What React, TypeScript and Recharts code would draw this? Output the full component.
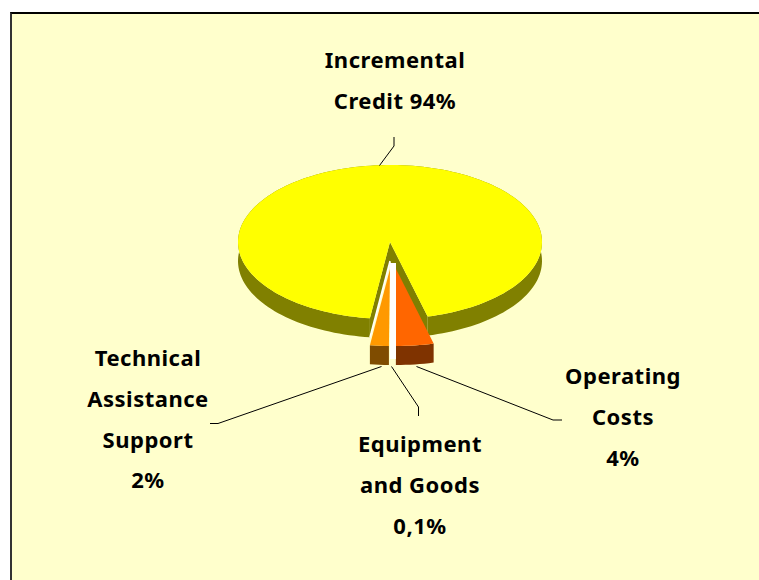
import { PieChart, Pie } from "recharts";

// clockwise from the lower left edge of the big slice
const sliceNames = ["Incremental Credit", "Operating Costs", "Equipment and Goods", "Technical Assistance Support"];
const sliceValues = [94, 4, 0.1, 2];
const labelLines = [
	["Incremental", "Credit 94%"],
	["Operating", "Costs", "4%"],
	["Equipment", "and Goods", "0,1%"],
	["Technical", "Assistance", "Support", "2%"],
];

const chartData = sliceNames.map((name, i) => ({ name, value: sliceValues[i] }));

const TOP_COLORS = ["#FFFF00", "#FF6600", "#FFFFFF", "#FF9900"];
const WALL_COLORS = ["#808000", "#7F3300", "#FFFFFF", "#7F4C00"];

// how the 3D look was flattened
const SQUASH = 0.5066;
const DEPTH = 19;
const EXPLODE = [
	{ x: 0, y: 0 },
	{ x: 6, y: 27 },
	{ x: 3, y: 21 },
	{ x: 0, y: 27 },
];

const LABEL_STYLE = [
	{ x: 395, y: 68, leader: "379.5,165.5 394,146 394,137" },
	{ x: 623, y: 384, leader: "416.5,366.5 553,420 562,420" },
	{ x: 420, y: 452, leader: "391.5,366.5 418.5,407 418.5,416" },
	{ x: 148, y: 366, leader: "381.5,366.5 218,423.5 210,423.5" },
];

function arcPoints(p: any, dx: number, dy: number) {
	const pts: [number, number][] = [];
	const steps = Math.max(2, Math.ceil(Math.abs(p.endAngle - p.startAngle) / 2));
	for (let i = 0; i <= steps; i++) {
		const a = ((p.startAngle + ((p.endAngle - p.startAngle) * i) / steps) * Math.PI) / 180;
		pts.push([
			p.cx + dx + p.outerRadius * Math.cos(a),
			p.cy + dy - p.outerRadius * SQUASH * Math.sin(a),
		]);
	}
	return pts;
}

const toStr = (pts: [number, number][]) => pts.map((q) => q.join(",")).join(" ");

function Slice3D(props: any) {
	const idx = sliceNames.indexOf(props.name ?? props.payload?.name);
	const off = EXPLODE[idx];
	const top = arcPoints(props, off.x, off.y);
	const bottom = arcPoints(props, off.x, off.y + DEPTH);
	const apex: [number, number] = [props.cx + off.x, props.cy + off.y];
	const apexLow: [number, number] = [apex[0], apex[1] + DEPTH];

	if (idx === 2) {
		// the thin slice only reads as a white bar
		const end = bottom[bottom.length - 1];
		return <line x1={apex[0]} y1={apex[1]} x2={apex[0]} y2={end[1]} stroke="#FFFFFF" strokeWidth={6} />;
	}

	const first = top[0];
	const last = top[top.length - 1];
	return (
		<g>
			<polygon points={toStr([...top, ...[...bottom].reverse()])} fill={WALL_COLORS[idx]} />
			{idx === 0 && (
				<>
					<polygon points={toStr([apex, first, bottom[0], apexLow])} fill={WALL_COLORS[idx]} />
					<polygon points={toStr([apex, last, bottom[bottom.length - 1], apexLow])} fill={WALL_COLORS[idx]} />
					<polyline points={toStr([bottom[0], apexLow])} fill="none" stroke="#FFFFFF" strokeWidth={1.5} />
				</>
			)}
			<polygon points={toStr([apex, ...top])} fill={TOP_COLORS[idx]} />
		</g>
	);
}

function SliceLabel(props: any) {
	const idx = sliceNames.indexOf(props.name ?? props.payload?.name);
	const style = LABEL_STYLE[idx];
	return (
		<g>
			<polyline points={style.leader} fill="none" stroke="#000000" strokeWidth={1} />
			{labelLines[idx].map((line, i) => (
				<text
					key={line}
					x={style.x}
					y={style.y + i * 40.8}
					textAnchor="middle"
					fontFamily="'Noto Sans', sans-serif"
					fontWeight="bold"
					fontSize={22}
					letterSpacing={0.5}
					fill="#000000"
				>
					{line}
				</text>
			))}
		</g>
	);
}

export default function App() {
	return (
		<div style={{ position: "fixed", left: 0, top: 0, width: 759, height: 580, overflow: "hidden", background: "#FFFFFF" }}>
			<div
				style={{
					position: "absolute",
					left: 10,
					top: 12,
					width: 760,
					height: 580,
					background: "#FFFFCC",
					borderTop: "2px solid #000000",
					borderLeft: "2px solid #333333",
				}}
			/>
			<div style={{ position: "absolute", left: 0, top: 0 }}>
				<PieChart width={759} height={580} margin={{ top: 0, right: 0, bottom: 0, left: 0 }}>
					<Pie
						data={chartData}
						dataKey="value"
						nameKey="name"
						cx={390}
						cy={242}
						outerRadius={152}
						startAngle={-97.6}
						endAngle={-457.6}
						paddingAngle={0}
						stroke="none"
						isAnimationActive={false}
						shape={Slice3D}
						label={SliceLabel}
						labelLine={false}
					/>
				</PieChart>
			</div>
		</div>
	);
}
